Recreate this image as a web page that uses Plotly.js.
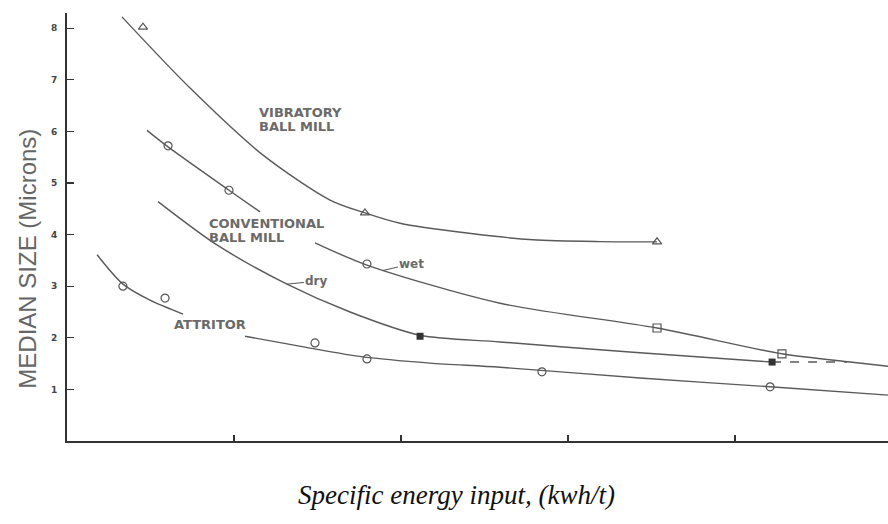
<!DOCTYPE html>
<html>
<head>
<meta charset="utf-8">
<script src="https://cdn.plot.ly/plotly-3.0.1.min.js"></script>
<style>html,body{margin:0;padding:0;background:#fff;}#chart{width:888px;height:524px;}</style>
</head>
<body>
<div id="chart"></div>
<script>
// Specific energy input (tick units, ticks unlabeled) and median size (microns)
const vibLineX = [0.329, 0.737, 1.174, 1.575, 1.784, 1.994, 2.395, 2.790, 3.192, 3.533];
const vibLineY = [8.22, 6.84, 5.54, 4.67, 4.42, 4.22, 4.03, 3.90, 3.865, 3.86];
const vibPtsX = [0.455, 1.784, 3.533];
const vibPtsY = [8.02, 4.42, 3.86];

const wetLineX = [0.479, 0.605, 0.970, 1.156, null, 1.485, 1.796, 2.593, 3.533, 4.281, 4.689, 4.916];
const wetLineY = [6.02, 5.70, 4.86, 4.44, null, 3.84, 3.41, 2.67, 2.19, 1.69, 1.53, 1.45];
const wetPtsX = [0.605, 0.970, 1.796, 3.533, 4.281];
const wetPtsY = [5.72, 4.86, 3.43, 2.19, 1.69];
const wetSymbols = ["circle-open", "circle-open", "circle-open", "square-open", "square-open"];

const dryLineX = [0.545, 0.898, 1.317, 1.695, 2.114, 2.593, 3.389, 4.222];
const dryLineY = [4.64, 3.80, 3.04, 2.50, 2.05, 1.92, 1.72, 1.53];
const dryDashX = [4.222, 4.671];
const dryDashY = [1.53, 1.53];
const dryPtsX = [2.114, 4.222];
const dryPtsY = [2.03, 1.53];

const attLineX = [0.180, 0.335, 0.497, 0.695, null, 1.066, 1.425, 1.772, 2.174, 2.593, 3.431, 4.210, 4.916];
const attLineY = [3.61, 3.04, 2.73, 2.46, null, 2.03, 1.82, 1.63, 1.51, 1.43, 1.22, 1.05, 0.89];
const attPtsX = [0.335, 0.587, 1.485, 1.796, 2.844, 4.210];
const attPtsY = [3.00, 2.77, 1.90, 1.59, 1.34, 1.05];

const yTicks = [1, 2, 3, 4, 5, 6, 7, 8];
const xTicks = [1, 2, 3, 4];

const lineStyle = {color: "#5a5a5a", width: 1.4, shape: "spline", smoothing: 0.8};
const mk = (sym) => ({symbol: sym, size: 8, color: "#555", line: {color: "#555", width: 1.2}});

const traces = [
  {x: vibLineX, y: vibLineY, mode: "lines", line: lineStyle, hoverinfo: "skip"},
  {x: vibPtsX, y: vibPtsY, mode: "markers", marker: mk("triangle-up-open")},
  {x: wetLineX, y: wetLineY, mode: "lines", line: lineStyle, connectgaps: false, hoverinfo: "skip"},
  {x: wetPtsX, y: wetPtsY, mode: "markers", marker: mk(wetSymbols)},
  {x: dryLineX, y: dryLineY, mode: "lines", line: lineStyle, hoverinfo: "skip"},
  {x: dryDashX, y: dryDashY, mode: "lines", line: {color: "#5a5a5a", width: 1.4, dash: "dash"}, hoverinfo: "skip"},
  {x: dryPtsX, y: dryPtsY, mode: "markers", marker: {symbol: "square", size: 7, color: "#333"}},
  {x: attLineX, y: attLineY, mode: "lines", line: lineStyle, connectgaps: false, hoverinfo: "skip"},
  {x: attPtsX, y: attPtsY, mode: "markers", marker: mk("circle-open")}
];

const labelFont = {family: "DejaVu Sans, sans-serif", size: 13, color: "#6a6a6a", weight: "bold"};
const smallFont = {family: "DejaVu Sans, sans-serif", size: 12, color: "#6a6a6a", weight: "bold"};
const lbl = (x, y, t) => ({x: x, y: y, text: t, showarrow: false, xanchor: "left", yanchor: "middle", font: labelFont});

const layout = {
  width: 888, height: 524,
  margin: {l: 67, r: 0, t: 13, b: 83},
  paper_bgcolor: "#fff", plot_bgcolor: "#fff",
  showlegend: false,
  xaxis: {
    range: [0, 4.916], showgrid: false, zeroline: false,
    showline: true, linecolor: "#333", linewidth: 2,
    ticks: "inside", ticklen: 6, tickcolor: "#333", tickwidth: 1.5,
    tickvals: xTicks, showticklabels: false
  },
  yaxis: {
    range: [0, 8.295], showgrid: false, zeroline: false,
    showline: true, linecolor: "#333", linewidth: 2,
    ticks: "inside", ticklen: 7, tickcolor: "#333", tickwidth: 1.2,
    tickvals: yTicks, ticktext: yTicks.map(String),
    tickfont: {family: "DejaVu Sans, sans-serif", size: 9, color: "#444", weight: "bold"},
    ticklabelstandoff: 6
  },
  annotations: [
    {xref: "paper", yref: "paper", x: -0.0475, y: 0.426, text: "MEDIAN SIZE (Microns)", textangle: -90,
     showarrow: false, xanchor: "center", yanchor: "middle",
     font: {family: "Arial, Liberation Sans, sans-serif", size: 24, color: "#666"}},
    {xref: "paper", yref: "paper", x: 0.474, y: -0.126, text: "Specific energy input, (kwh/t)",
     showarrow: false, xanchor: "center", yanchor: "middle",
     font: {family: "Liberation Serif, serif", size: 27, color: "#111", style: "italic"}},
    lbl(1.138, 6.376, "VIBRATORY"),
    lbl(1.138, 6.105, "BALL MILL"),
    lbl(0.838, 4.225, "CONVENTIONAL"),
    lbl(0.838, 3.953, "BALL MILL"),
    lbl(0.629, 2.25, "ATTRITOR"),
    {x: 1.886, y: 3.30, ax: 30, ay: -7, text: "wet", showarrow: true, arrowhead: 0, arrowwidth: 1, arrowcolor: "#555", font: smallFont},
    {x: 1.317, y: 3.04, ax: 30, ay: -3, text: "dry", showarrow: true, arrowhead: 0, arrowwidth: 1, arrowcolor: "#555", font: smallFont}
  ]
};

Plotly.newPlot("chart", traces, layout, {displayModeBar: false, staticPlot: true});
</script>
</body>
</html>
